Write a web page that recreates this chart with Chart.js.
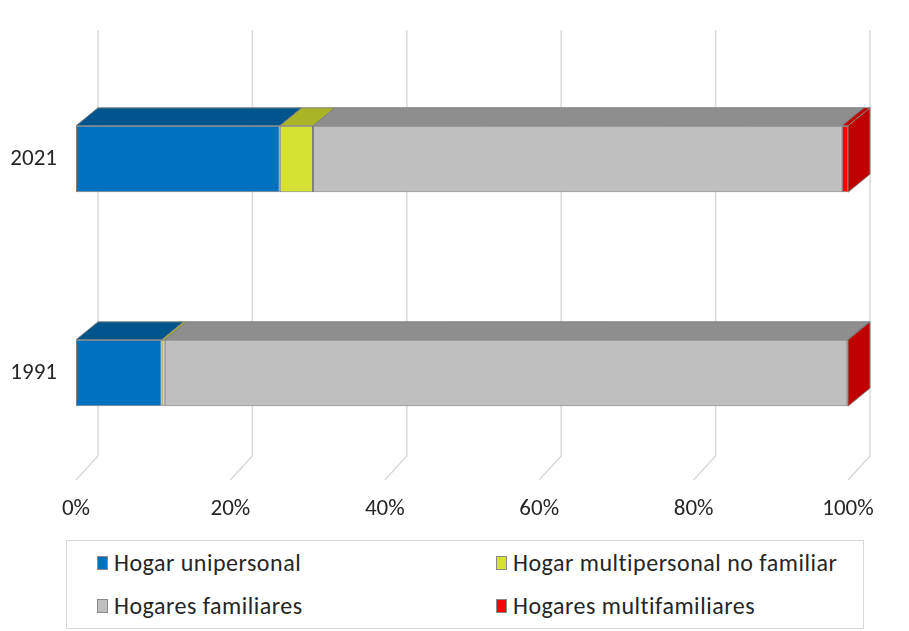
<!DOCTYPE html>
<html>
<head>
<meta charset="utf-8">
<script src="https://cdn.jsdelivr.net/npm/chart.js@4.4.0/dist/chart.umd.min.js"></script>
<style>
  html,body{margin:0;padding:0;background:#fff;}
  #wrap{position:relative;width:909px;height:631px;}
  #chart{position:absolute;left:0;top:0;}
  #legend{position:absolute;left:66px;top:540px;width:798px;height:89px;border:1.5px solid #d9d9d9;box-sizing:border-box;
    font-family:Carlito,Calibri,Lato,sans-serif;font-size:24px;letter-spacing:0.5px;color:#262626;}
  .item{position:absolute;display:flex;align-items:center;white-space:nowrap;line-height:28px;}
  .sw{width:9px;height:12px;border:1.5px solid #8a8a8a;margin-right:6px;}
</style>
</head>
<body>
<div id="wrap">
  <canvas id="chart" width="909" height="530"></canvas>
  <div id="legend"></div>
</div>
<script>
// household composition by year, percent of households
const years = ['2021', '1991'];
const unipersonal = [26.4, 11.1];
const multipersonal = [4.3, 0.4];
const familiares = [68.5, 88.4];
const multifamiliares = [0.8, 0.1];
const xTicks = [0, 20, 40, 60, 80, 100];

const series = [
  {label:'Hogar unipersonal', data:unipersonal, front:'#0070c0', top:'#00568c'},
  {label:'Hogar multipersonal no familiar', data:multipersonal, front:'#d6e233', top:'#a9b526'},
  {label:'Hogares familiares', data:familiares, front:'#bfbfbf', top:'#8e8e8e'},
  {label:'Hogares multifamiliares', data:multifamiliares, front:'#ff0000', top:'#c00000'}
];

const DX = 22, DY = 18;   // depth of the 3d bars
const edge = '#7f7f7f';
const tickFont = {family:'Carlito, Calibri, Lato, sans-serif', size:23};

// back wall gridlines + floor diagonals
const backWall = {
  id:'backWall',
  beforeDatasetsDraw(chart){
    const {ctx, chartArea, scales:{x}} = chart;
    ctx.save();
    ctx.strokeStyle = '#d9d9d9';
    ctx.lineWidth = 1.5;
    xTicks.forEach(v=>{
      const px = x.getPixelForValue(v);
      ctx.beginPath();
      ctx.moveTo(px+DX, 30);
      ctx.lineTo(px+DX, chartArea.bottom-DY-6);
      ctx.lineTo(px, chartArea.bottom);
      ctx.stroke();
    });
    ctx.restore();
  }
};

function poly(ctx, pts, fill){
  ctx.beginPath();
  ctx.moveTo(pts[0][0], pts[0][1]);
  pts.slice(1).forEach(p=>ctx.lineTo(p[0], p[1]));
  ctx.closePath();
  ctx.fillStyle = fill;
  ctx.fill();
  ctx.stroke();
}

// top faces and end side face of each stacked bar
const bars3d = {
  id:'bars3d',
  afterDatasetsDraw(chart){
    const ctx = chart.ctx;
    ctx.save();
    ctx.strokeStyle = edge;
    ctx.lineWidth = 1;
    ctx.lineJoin = 'round';
    years.forEach((y, i)=>{
      let last = null;
      chart.data.datasets.forEach((ds, d)=>{
        const el = chart.getDatasetMeta(d).data[i];
        const p = el.getProps(['x','base','y','height'], true);
        const top = p.y - p.height/2;
        poly(ctx, [[p.base, top],[p.x, top],[p.x+DX, top-DY],[p.base+DX, top-DY]], series[d].top);
        last = {p, top, d};
      });
      const {p, top, d} = last;
      const bottom = top + p.height;
      poly(ctx, [[p.x, top],[p.x+DX, top-DY],[p.x+DX, bottom-DY],[p.x, bottom]], series[d].top);
    });
    ctx.restore();
  }
};

const chart = new Chart(document.getElementById('chart'), {
  type:'bar',
  data:{
    labels:years,
    datasets:series.map(s=>({
      label:s.label, data:s.data, backgroundColor:s.front,
      borderColor:edge, borderWidth:1, borderSkipped:false,
      categoryPercentage:1, barPercentage:0.31
    }))
  },
  options:{
    indexAxis:'y',
    responsive:false,
    animation:false,
    layout:{padding:{top:52, right:61, left:0, bottom:0}},
    plugins:{legend:{display:false}, tooltip:{enabled:false}},
    scales:{
      x:{
        stacked:true, min:0, max:100,
        afterBuildTicks(axis){ axis.ticks = xTicks.map(v=>({value:v})); },
        afterFit(axis){ axis.height = 50; },
        grid:{display:false, drawTicks:false}, border:{display:false},
        ticks:{padding:15, color:'#262626', font:tickFont, callback:v=>v+'%'}
      },
      y:{
        stacked:true,
        afterFit(axis){ axis.width = 76; },
        grid:{display:false, drawTicks:false}, border:{display:false},
        ticks:{padding:19, color:'#262626', font:tickFont}
      }
    }
  },
  plugins:[backWall, bars3d]
});

// legend built from the datasets, two columns
const legendPos = [[30,8],[429,8],[30,51],[429,51]];
const legendEl = document.getElementById('legend');
chart.data.datasets.forEach((ds, i)=>{
  const it = document.createElement('div');
  it.className = 'item';
  it.style.left = legendPos[i][0]+'px';
  it.style.top = legendPos[i][1]+'px';
  const sw = document.createElement('span');
  sw.className = 'sw';
  sw.style.background = ds.backgroundColor;
  const tx = document.createElement('span');
  tx.textContent = ds.label;
  it.appendChild(sw); it.appendChild(tx);
  legendEl.appendChild(it);
});
</script>
</body>
</html>
